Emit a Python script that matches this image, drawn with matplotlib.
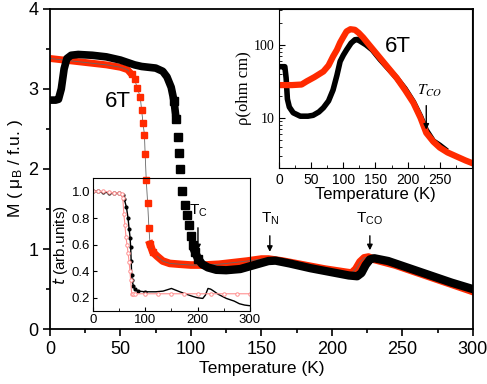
"""
M(T) at 6T with resistivity and hopping-parameter insets
"""
import numpy as np
import matplotlib
matplotlib.use("Agg")
import matplotlib.pyplot as plt

plt.rcParams['font.family'] = ['Liberation Sans', 'DejaVu Sans']

# main panel: magnetisation (mu_B / f.u.)
black_T = [1, 4, 6, 8, 10, 12, 15, 20, 30, 40, 50, 55, 60, 65, 70, 75, 80, 83, 86, 88,
           89.5, 90.5, 91.5, 92.5, 94, 95.5, 97, 98.5, 100, 101.5, 103, 105, 108, 112,
           118, 125, 135, 145, 155, 160, 170, 185, 200, 212, 218, 221, 224, 227, 230,
           240, 255, 270, 285, 300]
black_M = [2.86, 2.86, 2.87, 3.0, 3.25, 3.38, 3.42, 3.43, 3.42, 3.40, 3.36, 3.33, 3.30,
           3.28, 3.27, 3.26, 3.22, 3.15, 3.02, 2.85, 2.62, 2.4, 2.2, 2.0, 1.72, 1.55,
           1.42, 1.3, 1.16, 1.05, 0.96, 0.88, 0.81, 0.77, 0.74, 0.735, 0.75, 0.8, 0.85,
           0.855, 0.82, 0.76, 0.71, 0.67, 0.66, 0.7, 0.8, 0.87, 0.885, 0.85, 0.76, 0.67,
           0.58, 0.5]
red_T = [0, 10, 20, 30, 40, 50, 55, 58, 60, 62, 64, 65, 66, 67, 67.5, 68.3, 69.3, 70.2,
         71, 73, 76, 80, 85, 92, 100, 110, 120, 130, 140, 150, 155, 165, 180, 195, 210,
         214, 217, 220, 223, 226, 230, 245, 260, 280, 300]
red_M = [3.38, 3.36, 3.34, 3.32, 3.30, 3.27, 3.24, 3.18, 3.12, 3.01, 2.9, 2.74, 2.57,
         2.43, 2.19, 1.86, 1.57, 1.26, 1.06, 0.96, 0.91, 0.85, 0.82, 0.81, 0.80, 0.80,
         0.81, 0.83, 0.85, 0.875, 0.875, 0.85, 0.80, 0.75, 0.71, 0.70, 0.75, 0.84, 0.89,
         0.90, 0.87, 0.80, 0.71, 0.59, 0.47]

# upper inset: resistivity (ohm cm)
rho_black_T = [0, 5, 9, 11, 13, 16, 22, 33, 45, 53, 62, 69, 77, 84, 90, 95, 100, 105,
               112, 118, 122, 126, 135, 145, 157, 170, 183, 196, 209, 220, 229, 240, 250, 258]
rho_black = [50, 50, 50, 35, 18, 14, 11.7, 10.5, 10.5, 10.8, 12, 13.7, 17, 24, 38, 59,
             72, 85, 105, 117, 118, 112, 100, 85, 63, 47, 35, 25, 16.5, 10.5, 6.8, 4.8,
             4.2, 3.7]
rho_red_T = [0, 10, 20, 35, 43, 55, 69, 77, 84, 90, 95, 100, 105, 111, 118, 124, 131,
             140, 157, 170, 183, 196, 209, 220, 229, 240, 250, 262, 276, 290, 300]
rho_red = [28, 28, 28, 28.5, 31.5, 36, 43, 52, 69, 85, 107, 128, 152, 163, 160, 145, 125,
           100, 66, 48, 35, 24, 16, 10, 6.2, 4.7, 3.9, 3.35, 2.95, 2.6, 2.4]

# lower inset: t (arb. units)
t_black_T = [0, 10, 20, 30, 40, 50, 57, 60, 64, 67, 69, 71, 72, 73, 74, 75, 77, 80, 86,
             100, 120, 134, 150, 166, 180, 191, 200, 210, 215, 220, 225, 229, 240, 255,
             270, 280, 290, 300]
t_black = [1.0, 1.0, 0.995, 0.99, 0.99, 0.985, 0.97, 0.94, 0.88, 0.8, 0.72, 0.65, 0.58,
           0.48, 0.37, 0.33, 0.29, 0.265, 0.25, 0.245, 0.245, 0.25, 0.27, 0.245, 0.225,
           0.21, 0.2, 0.195, 0.22, 0.27, 0.265, 0.255, 0.225, 0.195, 0.175, 0.155, 0.145, 0.14]
t_red_T = [0, 10, 20, 30, 40, 50, 55, 57, 59, 61, 63, 65, 67, 69, 70.7, 72, 74, 76, 80,
           100, 125, 150, 175, 200, 225, 250, 275, 300]
t_red = [1.0, 1.0, 1.0, 0.995, 0.99, 0.99, 0.98, 0.95, 0.83, 0.75, 0.66, 0.6, 0.54,
         0.47, 0.40, 0.33, 0.23, 0.23, 0.23, 0.23, 0.23, 0.23, 0.23, 0.23, 0.23, 0.23,
         0.23, 0.23]

red = '#ff2a00'

fig = plt.figure(figsize=(4.87, 3.84), dpi=100)
ax = fig.add_axes([0.1027, 0.143, 0.868, 0.834])

# thick bands where the points are dense, single squares in the steep parts
ax.plot(red_T[:8], red_M[:8], '-', color=red, lw=5, solid_capstyle='butt')
ax.plot(red_T[18:], red_M[18:], '-', color=red, lw=5.5)
ax.plot(red_T, red_M, '-', color='0.4', lw=0.6)
ax.plot(red_T[7:20], red_M[7:20], 's', color=red, ms=5, mec=red)
ax.plot(black_T[:21], black_M[:21], '-', color='k', lw=5.5)
ax.plot(black_T[30:], black_M[30:], '-', color='k', lw=6)
ax.plot(black_T[19:32], black_M[19:32], 's', color='k', ms=5.5)

ax.set_xlim(0, 300)
ax.set_ylim(0, 4)
ax.set_xticks(np.arange(0, 301, 50))
ax.set_xticks(np.arange(25, 300, 50), minor=True)
ax.set_yticks([0, 1, 2, 3, 4])
ax.set_yticks([0.5, 1.5, 2.5, 3.5], minor=True)
ax.tick_params(which='both', direction='out', labelsize=13, width=1.2)
ax.tick_params(which='major', length=5)
ax.tick_params(which='minor', length=3)
for s in ax.spines.values():
    s.set_linewidth(1.3)
ax.set_xlabel('Temperature (K)', fontsize=12.5, labelpad=2)
ax.set_ylabel(r'M ( $\mathregular{\mu_B}$ / f.u. )', fontsize=12.5, labelpad=2)

ax.text(48, 2.84, '6T', fontsize=16, ha='center', va='center')
ax.annotate('', xy=(105, 0.95), xytext=(105, 1.3),
            arrowprops=dict(arrowstyle='-|>', color='k', lw=1, mutation_scale=8))
ax.text(105, 1.38, r'T$_\mathregular{C}$', fontsize=11, ha='center', va='bottom')
ax.annotate('', xy=(156, 0.93), xytext=(156, 1.2),
            arrowprops=dict(arrowstyle='-|>', color='k', lw=1, mutation_scale=8))
ax.text(156, 1.27, r'T$_\mathregular{N}$', fontsize=11, ha='center', va='bottom')
ax.annotate('', xy=(227, 0.95), xytext=(227, 1.2),
            arrowprops=dict(arrowstyle='-|>', color='k', lw=1, mutation_scale=8))
ax.text(227, 1.27, r'T$_\mathregular{CO}$', fontsize=11, ha='center', va='bottom')

# upper right inset
ax1 = fig.add_axes([0.573, 0.5625, 0.396, 0.4145])
ax1.plot(rho_black_T, rho_black, '-', color='k', lw=4)
ax1.plot(rho_red_T, rho_red, '-', color=red, lw=4.5)
ax1.set_yscale('log')
ax1.set_xlim(0, 300)
ax1.set_ylim(2.05, 310)
ax1.set_xticks(np.arange(0, 251, 50))
ax1.set_xticks(np.arange(25, 300, 50), minor=True)
ax1.set_yticks([10, 100])
ax1.set_yticklabels(['10', '100'], family='Liberation Serif')
ax1.tick_params(which='both', direction='in', labelsize=10)
ax1.tick_params(which='major', length=4)
ax1.tick_params(which='minor', length=2)
ax1.set_xlabel('Temperature (K)', fontsize=12, labelpad=0)
ax1.set_ylabel('ρ(ohm cm)', fontsize=12, family='Liberation Serif', labelpad=1)
ax1.text(185, 95, '6T', fontsize=16, ha='center', va='center')
ax1.annotate('', xy=(229, 6.3), xytext=(229, 16),
             arrowprops=dict(arrowstyle='-|>', color='k', lw=1, mutation_scale=8))
ax1.text(234, 23, r'$T_{CO}$', fontsize=11, ha='center', va='center',
         math_fontfamily='stix')

# lower left inset, transparent so the main curves show through
ax2 = fig.add_axes([0.191, 0.19, 0.322, 0.346])
ax2.patch.set_alpha(0)
ax2.plot(t_black_T, t_black, '-', color='k', lw=1)
ax2.plot(t_black_T[:20], t_black[:20], 'o', color='k', ms=2)
ax2.plot(t_red_T, t_red, '-o', color='#ff9090', lw=0.8, ms=2.5, mfc='white', mew=0.7)
ax2.set_xlim(0, 300)
ax2.set_ylim(0.1, 1.1)
ax2.set_xticks([0, 100, 200, 300])
ax2.set_xticks([50, 150, 250], minor=True)
ax2.set_yticks([0.2, 0.4, 0.6, 0.8, 1.0])
ax2.set_yticklabels(['0.2', '0.4', '0.6', '0.8', '1.0'])
ax2.tick_params(which='both', direction='in', labelsize=9.5, pad=2)
ax2.tick_params(which='major', length=3)
ax2.tick_params(which='minor', length=2)
ax2.set_ylabel(r'$\mathit{t}$ (arb.units)', fontsize=11, labelpad=1)

fig.savefig('out.png', dpi=100)
